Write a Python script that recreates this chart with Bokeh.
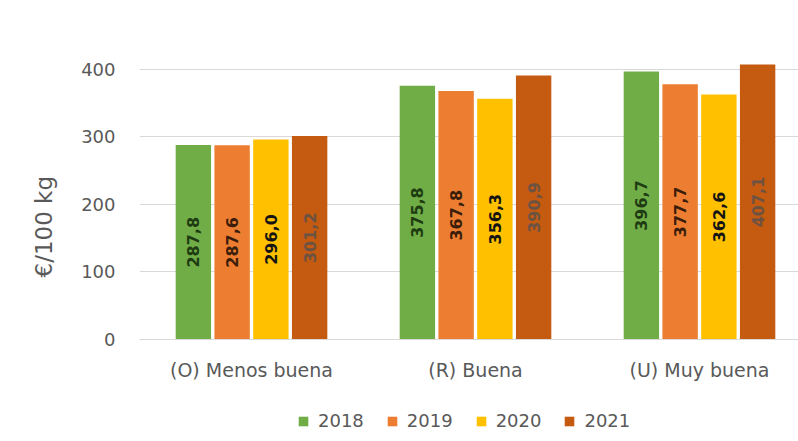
import math
from bokeh.plotting import figure
from bokeh.layouts import column
from bokeh.models import Range1d, FixedTicker, Legend, LegendItem, ColumnDataSource, Title
from bokeh.core.properties import value
from bokeh.embed import file_html
from bokeh.resources import INLINE

categories = ["(O) Menos buena", "(R) Buena", "(U) Muy buena"]
years = ["2018", "2019", "2020", "2021"]
v2018 = [287.8, 375.8, 396.7]
v2019 = [287.6, 367.8, 377.7]
v2020 = [296.0, 356.3, 362.6]
v2021 = [301.2, 390.9, 407.1]
y_ticks = [0, 100, 200, 300, 400]
y_title = "€/100 kg"

series = [v2018, v2019, v2020, v2021]
colors = ["#70AD47", "#ED7D31", "#FFC000", "#C55A11"]
label_colors = ["#1f3b12", "#3a1d0a", "#141414", "#6b5242"]

FONT = "DejaVu Sans"
p = figure(width=798, height=400, output_backend="svg", toolbar_location=None,
           x_range=Range1d(-0.5, 2.442), y_range=Range1d(0, 450),
           min_border_left=139, min_border_top=35, min_border_right=0,
           min_border_bottom=61)
p.background_fill_color = "white"
p.border_fill_color = "white"
p.outline_line_color = None

pitch = 0.173
bw = 0.158
xs_base = list(range(len(categories)))
sources = []
for i, (vals, col, lcol) in enumerate(zip(series, colors, label_colors)):
    off = (i - 1.5) * pitch
    xs = [x + off for x in xs_base]
    src = ColumnDataSource(dict(x=xs, top=vals, ymid=[v / 2 for v in vals],
                                lab=[f"{v:.1f}".replace(".", ",") for v in vals]))
    sources.append(src)
    p.vbar(x="x", top="top", width=bw, source=src, fill_color=col, line_color=None)
    p.text(x="x", y="ymid", text="lab", source=src, angle=math.pi / 2,
           text_align="center", text_baseline="middle", text_font=value(FONT),
           text_font_style="bold", text_font_size="16px", text_color=lcol)

# axes
p.xaxis.ticker = FixedTicker(ticks=xs_base)
p.xaxis.major_label_overrides = {i: c for i, c in enumerate(categories)}
p.xaxis.major_tick_line_color = None
p.xaxis.minor_tick_line_color = None
p.xaxis.axis_line_color = "#d9d9d9"
p.xaxis.major_label_text_font = FONT
p.xaxis.major_label_text_font_size = "19px"
p.xaxis.major_label_text_color = "#595959"
p.xaxis.major_label_standoff = 13

p.yaxis.ticker = FixedTicker(ticks=y_ticks)
p.yaxis.major_tick_line_color = None
p.yaxis.minor_tick_line_color = None
p.yaxis.axis_line_color = None
p.yaxis.major_label_text_font = FONT
p.yaxis.major_label_text_font_size = "18px"
p.yaxis.major_label_text_color = "#595959"
p.yaxis.major_label_standoff = 18

# y-axis title as a side-panel title (placed like the reference)
ytitle = Title(text=y_title, align="left", offset=62, vertical_align="top",
               text_font=FONT, text_font_size="23px", text_font_style="normal",
               text_color="#595959", standoff=40)
p.add_layout(ytitle, "left")

p.xgrid.grid_line_color = None
p.ygrid.grid_line_color = "#d9d9d9"
p.ygrid.grid_line_width = 1

# legend strip (same data, bars kept outside the visible range)
pl = figure(width=798, height=41, output_backend="svg", toolbar_location=None,
            x_range=Range1d(-0.5, 2.442), y_range=Range1d(1000, 1001),
            x_axis_location=None, y_axis_location=None,
            min_border_left=0, min_border_right=0, min_border_top=0, min_border_bottom=0)
pl.outline_line_color = None
pl.grid.visible = False
pl.border_fill_color = "white"
items = []
for src, col, yr in zip(sources, colors, years):
    r = pl.vbar(x="x", top="top", width=bw, source=src, fill_color=col, line_color=None)
    items.append(LegendItem(label=yr, renderers=[r]))
legend = Legend(items=items, orientation="horizontal", location=(158, 10),
                label_text_font=FONT, label_text_font_size="18px",
                label_text_color="#595959", glyph_width=12, glyph_height=12,
                label_standoff=9, spacing=22, border_line_color=None,
                background_fill_alpha=0, padding=4, margin=0)
pl.add_layout(legend)

layout = column(p, pl, spacing=0)
open("out.html", "w").write(file_html(layout, INLINE))
